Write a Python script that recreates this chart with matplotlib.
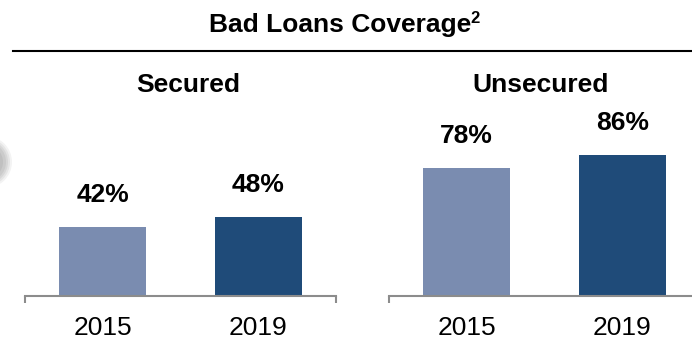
import matplotlib
matplotlib.use("Agg")
import matplotlib.pyplot as plt
from matplotlib.lines import Line2D
from matplotlib.patches import Circle

plt.rcParams['font.family'] = ['Liberation Sans', 'DejaVu Sans']

# data
years = ['2015', '2019']
secured = [42, 48]
unsecured = [78, 86]
panel_titles = ['Secured', 'Unsecured']

light = '#7a8cb0'
dark = '#1f4b79'
axis_grey = '#8c8c8c'

W, H = 692, 341
fig = plt.figure(figsize=(W / 100, H / 100), dpi=100)

def px(x, y):
    # pixel (top-left origin) -> figure fraction
    return x / W, 1 - y / H

# title and rule
t = fig.text(*px(340, 32), 'Bad Loans Coverage', ha='center', va='baseline',
             fontsize=19, fontweight='bold')
r = fig.canvas.get_renderer()
bb = t.get_window_extent(r)
fig.text(bb.x1 / W - 1 / W, 1 - 23 / H, '2', ha='left', va='baseline',
         fontsize=12, fontweight='bold')
fig.add_artist(Line2D([13 / W, 1], [1 - 51 / H, 1 - 51 / H], color='black',
                      lw=1.5, transform=fig.transFigure))

# soft grey blob on the left edge
for rad, a in [(26, 0.15), (24, 0.2), (22, 0.25), (20, 0.3), (17, 0.4), (14, 0.5)]:
    fig.add_artist(Circle((-14 / 100, (H - 162) / 100), rad / 100,
                          transform=fig.dpi_scale_trans, color='#b0b0b0',
                          alpha=a, lw=0))

panels = [(25, secured, 188), (389, unsecured, 541)]
for (left, vals, tx), name in zip(panels, panel_titles):
    ax = fig.add_axes([left / W, (H - 296) / H, 311 / W, 164 / H])
    ax.bar([0, 1], vals, width=0.56, color=[light, dark])
    ax.set_xlim(-0.5, 1.5)
    ax.set_ylim(0, 100)
    for s in ['top', 'left', 'right']:
        ax.spines[s].set_visible(False)
    ax.spines['bottom'].set_color(axis_grey)
    ax.spines['bottom'].set_linewidth(1.5)
    ax.set_yticks([])
    ax.set_xticks([0, 1])
    ax.set_xticklabels(years, fontsize=19)
    ax.tick_params(axis='x', which='major', length=0, pad=14.5)
    ax.set_xticks([-0.5, 1.5], minor=True)
    ax.tick_params(axis='x', which='minor', length=5, width=1.5,
                   color=axis_grey, direction='out')
    for i, v in enumerate(vals):
        ax.annotate(f'{v}%', (i, v), xytext=(0, 18), textcoords='offset points',
                    ha='center', va='baseline', fontsize=19, fontweight='bold')
    fig.text(*px(tx, 92), name, ha='center', va='baseline',
             fontsize=19, fontweight='bold')

fig.savefig('out.png', dpi=100)
